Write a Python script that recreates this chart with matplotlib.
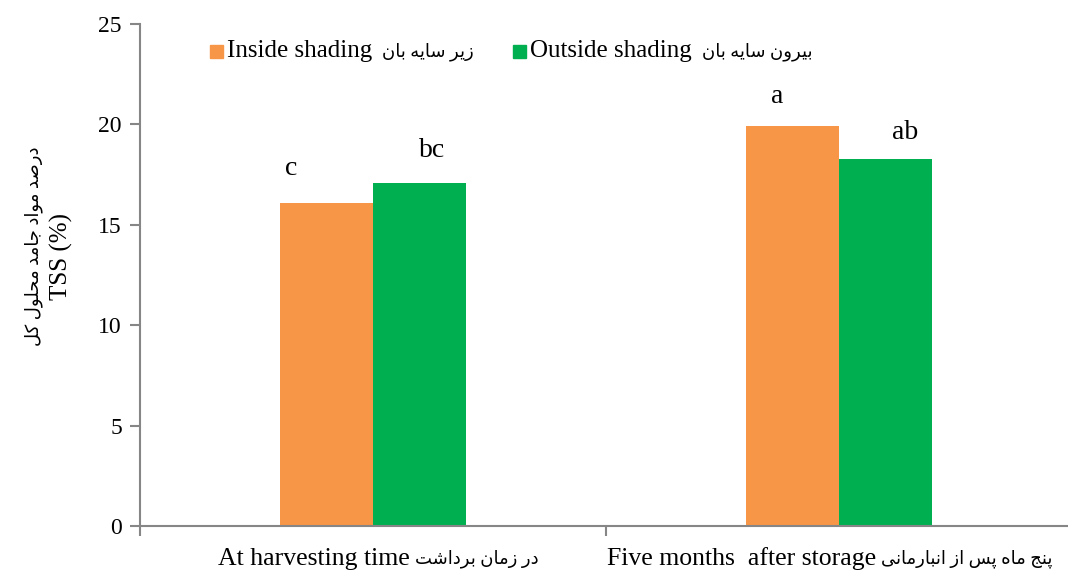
import numpy as np
import matplotlib
matplotlib.use('Agg')
import matplotlib.pyplot as plt
from matplotlib.patches import Rectangle
from matplotlib.transforms import offset_copy

# data
groups_en = ['At harvesting time', 'Five months  after storage']
groups_fa = ['در زمان برداشت', 'پنج ماه پس از انبارمانی']
inside = [16.1, 19.9]
outside = [17.1, 18.3]
letters_inside = ['c', 'a']
letters_outside = ['bc', 'ab']
series_en = ['Inside shading', 'Outside shading']
series_fa = ['زیر سایه بان', 'بیرون سایه بان']
ylabel_fa = 'درصد مواد جامد محلول کل'
ylabel_en = 'TSS (%)'

# tiny persian shaper: (isolated, final, initial, medial)
FORMS = {
    'ا': ('\uFE8D', '\uFE8E', None, None),
    'ب': ('\uFE8F', '\uFE90', '\uFE91', '\uFE92'),
    'ت': ('\uFE95', '\uFE96', '\uFE97', '\uFE98'),
    'ج': ('\uFE9D', '\uFE9E', '\uFE9F', '\uFEA0'),
    'ح': ('\uFEA1', '\uFEA2', '\uFEA3', '\uFEA4'),
    'د': ('\uFEA9', '\uFEAA', None, None),
    'ر': ('\uFEAD', '\uFEAE', None, None),
    'ز': ('\uFEAF', '\uFEB0', None, None),
    'س': ('\uFEB1', '\uFEB2', '\uFEB3', '\uFEB4'),
    'ش': ('\uFEB5', '\uFEB6', '\uFEB7', '\uFEB8'),
    'ص': ('\uFEB9', '\uFEBA', '\uFEBB', '\uFEBC'),
    'ل': ('\uFEDD', '\uFEDE', '\uFEDF', '\uFEE0'),
    'م': ('\uFEE1', '\uFEE2', '\uFEE3', '\uFEE4'),
    'ن': ('\uFEE5', '\uFEE6', '\uFEE7', '\uFEE8'),
    'ه': ('\uFEE9', '\uFEEA', '\uFEEB', '\uFEEC'),
    'و': ('\uFEED', '\uFEEE', None, None),
    'ی': ('\uFBFC', '\uFBFD', '\uFBFE', '\uFBFF'),
    'ک': ('\uFB8E', '\uFB8F', '\uFB90', '\uFB91'),
    'پ': ('\uFB56', '\uFB57', '\uFB58', '\uFB59'),
}


def fa(text):
    out = []
    n = len(text)
    for i, ch in enumerate(text):
        if ch not in FORMS:
            out.append(ch)
            continue
        prev = i > 0 and text[i - 1] in FORMS and FORMS[text[i - 1]][2] is not None
        nxt = i < n - 1 and text[i + 1] in FORMS and FORMS[ch][2] is not None
        f = FORMS[ch]
        if prev and nxt:
            out.append(f[3])
        elif prev:
            out.append(f[1])
        elif nxt:
            out.append(f[2])
        else:
            out.append(f[0])
    return ''.join(reversed(out))


FAM = ['Liberation Serif', 'DejaVu Sans']
plt.rcParams['font.family'] = FAM
plt.rcParams['font.size'] = 17
FA_SIZE = 13

orange = '#F79646'
green = '#00B050'
gray = '#868686'

W, H = 1068, 576
fig = plt.figure(figsize=(W / 100, H / 100), dpi=100)
ax = fig.add_axes([140 / W, 1 - 526 / H, 932 / W, 502 / H])

x = np.arange(len(groups_en))
w = 0.2
ax.bar(x - w / 2, inside, w, color=orange)
ax.bar(x + w / 2, outside, w, color=green)

# significance letters (placed by hand in the original)
lx_in = [-0.175, -0.133]
ly_in = [17.8, 21.4]
lx_out = [0.127, 0.142]
ly_out = [18.7, 19.6]
for i in range(len(x)):
    ax.text(x[i] + lx_in[i], ly_in[i], letters_inside[i], ha='center', va='center', fontsize=20)
    ax.text(x[i] + lx_out[i], ly_out[i], letters_outside[i], ha='center', va='center', fontsize=20)

ax.set_xlim(-0.5, 1.5)
ax.set_ylim(0, 25)
ax.set_yticks([0, 5, 10, 15, 20, 25])
ax.set_xticks([-0.5, 0.5, 1.5])
ax.set_xticklabels([])

for s in ['top', 'right']:
    ax.spines[s].set_visible(False)
for s in ['left', 'bottom']:
    ax.spines[s].set_color(gray)
    ax.spines[s].set_linewidth(1.5)
ax.tick_params(axis='both', colors=gray, labelcolor='black', length=7, width=1.5)
ax.tick_params(axis='y', pad=6)

fig.canvas.draw()
renderer = fig.canvas.get_renderer()

# category labels: english then persian
for i in range(len(x)):
    tr = offset_copy(ax.transData, fig=fig, x=37, y=-33, units='dots')
    ax.text(x[i], 0, groups_en[i], transform=tr, ha='right', va='center', fontsize=18.5)
    tr2 = offset_copy(ax.transData, fig=fig, x=42, y=-33, units='dots')
    ax.text(x[i], 0, fa(groups_fa[i]), transform=tr2, ha='left', va='center', fontsize=FA_SIZE)

# y label, two lines
fig.text(34 / W, 1 - 246 / H, fa(ylabel_fa), rotation=90, ha='center', va='center', fontsize=13)
fig.text(61 / W, 1 - 257 / H, ylabel_en, rotation=90, ha='center', va='center', fontsize=18)

# legend, drawn by hand because of the mixed fonts
leg_x = [210, 513]
leg_y = 51
colors = [orange, green]
for i in range(2):
    fig.patches.append(Rectangle((leg_x[i] / W, (H - leg_y - 6.5) / H), 13 / W, 13 / H,
                                 transform=fig.transFigure, color=colors[i]))
    t = fig.text((leg_x[i] + 17) / W, 1 - leg_y / H, series_en[i], ha='left', va='center',
                 fontsize=18)
    bb = t.get_window_extent(renderer)
    fig.text((bb.x1 + 10) / W, 1 - (leg_y + 1) / H, fa(series_fa[i]), ha='left', va='center',
             fontsize=FA_SIZE)

fig.savefig('out.png', dpi=100)
